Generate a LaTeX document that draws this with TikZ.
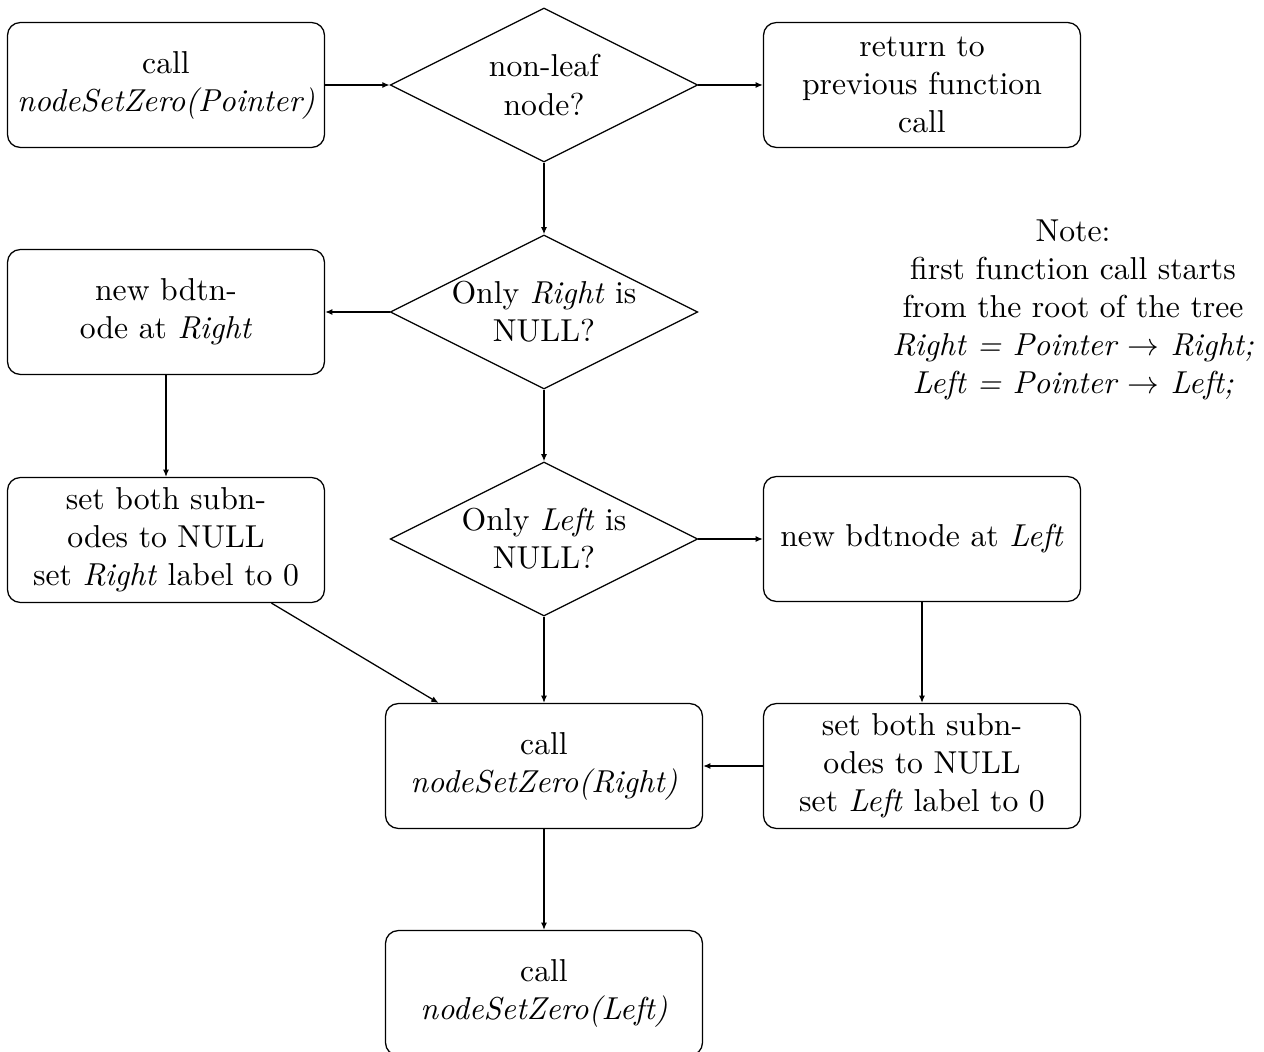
\documentclass[tikz,border=0pt]{standalone}
\usetikzlibrary{shapes.geometric,arrows.meta}

\tikzset{
  flowbox/.style={draw, rounded corners=4pt, align=center,
    minimum width=100pt, minimum height=39.4pt, inner sep=2pt},
  decision/.style={draw, diamond, shape aspect=2, align=center,
    minimum width=97pt, minimum height=48.6pt, inner sep=-1.5pt},
  notetext/.style={align=center, inner sep=0pt},
  flow/.style={-{Latex[length=2.3pt,width=1.9pt]}}
}

\begin{document}
\begin{tikzpicture}[x=0.3155pt, y=-0.3155pt]
  \useasboundingbox (0,0) rectangle (1264,1052);

  % top row
  \node[flowbox]  (start)  at (166,85)  {call\\\textit{nodeSetZero(Pointer)}};
  \node[decision] (leaf)   at (544,85)  {non-leaf\\node?};
  \node[flowbox]  (ret)    at (922,85)  {return to\\previous function\\call};

  % right sub-node check
  \node[flowbox]  (newR)   at (166,312) {new bdtn-\\ode at \textit{Right}};
  \node[decision] (onlyR)  at (544,312) {Only \textit{Right} is\\NULL?};
  \node[notetext] (note)   at (1073,310) {Note:\\first function call starts\\from the root of the tree\\
    \textit{Right = Pointer $\rightarrow$\ Right;}\\\textit{Left = Pointer $\rightarrow$\ Left;}};

  % left sub-node check
  \node[flowbox]  (setR)   at (166,540) {set both subn-\\odes to NULL\\set \textit{Right} label to 0};
  \node[decision] (onlyL)  at (544,539) {Only \textit{Left} is\\NULL?};
  \node[flowbox]  (newL)   at (922,539) {new bdtnode at \textit{Left}};

  % recursive calls
  \node[flowbox]  (callR)  at (544,766) {call\\\textit{nodeSetZero(Right)}};
  \node[flowbox]  (setL)   at (922,766) {set both subn-\\odes to NULL\\set \textit{Left} label to 0};
  \node[flowbox]  (callL)  at (544,993) {call\\\textit{nodeSetZero(Left)}};

  % connectors
  \draw[flow] (start) -- (leaf);
  \draw[flow] (leaf) -- (ret);
  \draw[flow] (leaf) -- (onlyR);
  \draw[flow] (onlyR) -- (newR);
  \draw[flow] (newR) -- (setR);
  \draw[flow] (onlyR) -- (onlyL);
  \draw[flow] (onlyL) -- (newL);
  \draw[flow] (setR) -- (callR);
  \draw[flow] (onlyL) -- (callR);
  \draw[flow] (newL) -- (setL);
  \draw[flow] (setL) -- (callR);
  \draw[flow] (callR) -- (callL);
\end{tikzpicture}
\end{document}
